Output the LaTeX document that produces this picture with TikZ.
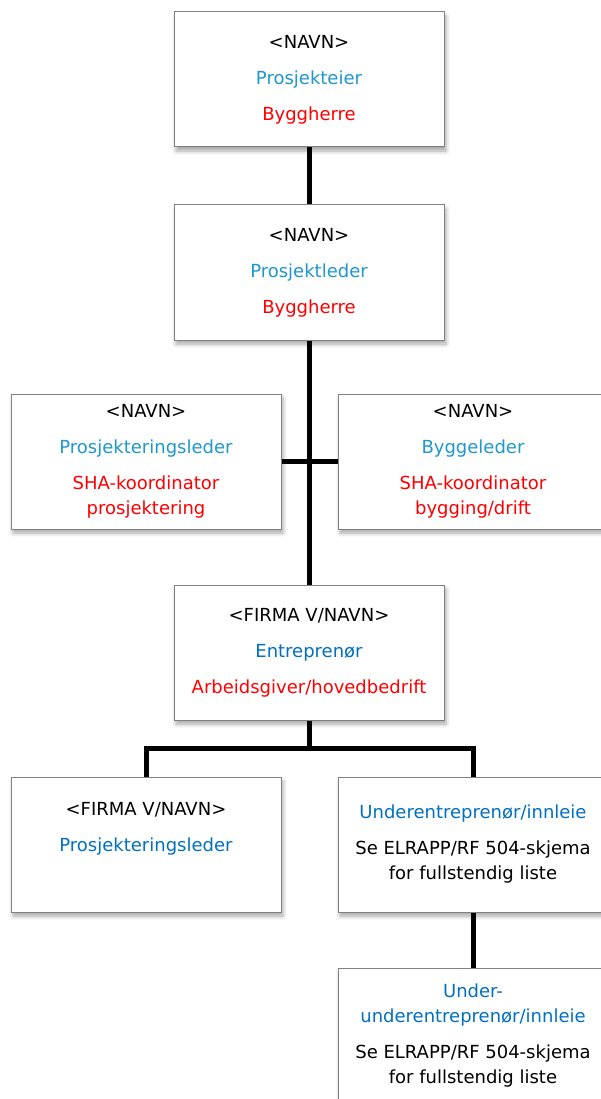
\documentclass[tikz,border=0pt]{standalone}
\usepackage{fontspec}
\setmainfont{DejaVu Sans}
\usetikzlibrary{positioning, shadows.blur}
\definecolor{rolleblue}{RGB}{30,152,206}
\definecolor{firmablue}{RGB}{0,112,192}
\definecolor{ansvarred}{RGB}{255,0,0}
\tikzstyle{boks} = [rectangle, minimum width=270pt, minimum height=135pt, align=center, draw=black!50, line width=1pt, fill=white, font=\fontsize{18}{25}\selectfont, blur shadow={shadow xshift=2pt, shadow yshift=-4pt, shadow blur radius=4pt, shadow opacity=35}]
\tikzstyle{linje} = [line width=5pt, black]

\begin{document}
\begin{tikzpicture}
	\useasboundingbox (0,0) rectangle (600pt,-1099pt);
	\node (eier) [boks] at (309pt,-79.5pt) {<NAVN>\\[11pt]\textcolor{rolleblue}{Prosjekteier}\\[11pt]\textcolor{ansvarred}{Byggherre}};
	\node (leder) [boks, below=57pt of eier] {<NAVN>\\[11pt]\textcolor{rolleblue}{Prosjektleder}\\[11pt]\textcolor{ansvarred}{Byggherre}};
	\node (prosj) [boks, below=53pt of leder, xshift=-163pt] {<NAVN>\\[11pt]\textcolor{rolleblue}{Prosjekteringsleder}\\[11pt]\textcolor{ansvarred}{SHA-koordinator}\\\textcolor{ansvarred}{prosjektering}};
	\node (bygg) [boks, below=53pt of leder, xshift=164pt] {<NAVN>\\[11pt]\textcolor{rolleblue}{Byggeleder}\\[11pt]\textcolor{ansvarred}{SHA-koordinator}\\\textcolor{ansvarred}{bygging/drift}};
	\node (entr) [boks, below=244pt of leder] {<FIRMA V/NAVN>\\[11pt]\textcolor{firmablue}{Entreprenør}\\[11pt]\textcolor{ansvarred}{Arbeidsgiver/hovedbedrift}};
	\node (firma) [boks, below=56pt of entr, xshift=-163pt] {<FIRMA V/NAVN>\\[11pt]\textcolor{firmablue}{Prosjekteringsleder}\\[11pt]\mbox{}};
	\node (under) [boks, below=56pt of entr, xshift=164pt] {\textcolor{firmablue}{Underentreprenør/innleie}\\[11pt]Se ELRAPP/RF 504-skjema\\for fullstendig liste};
	\node (underunder) [boks, below=55pt of under] {\textcolor{firmablue}{Under-}\\\textcolor{firmablue}{underentreprenør/innleie}\\[11pt]Se ELRAPP/RF 504-skjema\\for fullstendig liste};

	\draw [linje](eier) -- (leder);
	\draw [linje](leder) -- (entr);
	\draw [linje](prosj) -- (bygg);
	\draw [linje](entr.south) -- ++(0,-28pt) coordinate (grein) -| (firma.north);
	\draw [linje](grein) -| (under.north);
	\draw [linje](under) -- (underunder);
\end{tikzpicture}
\end{document}
